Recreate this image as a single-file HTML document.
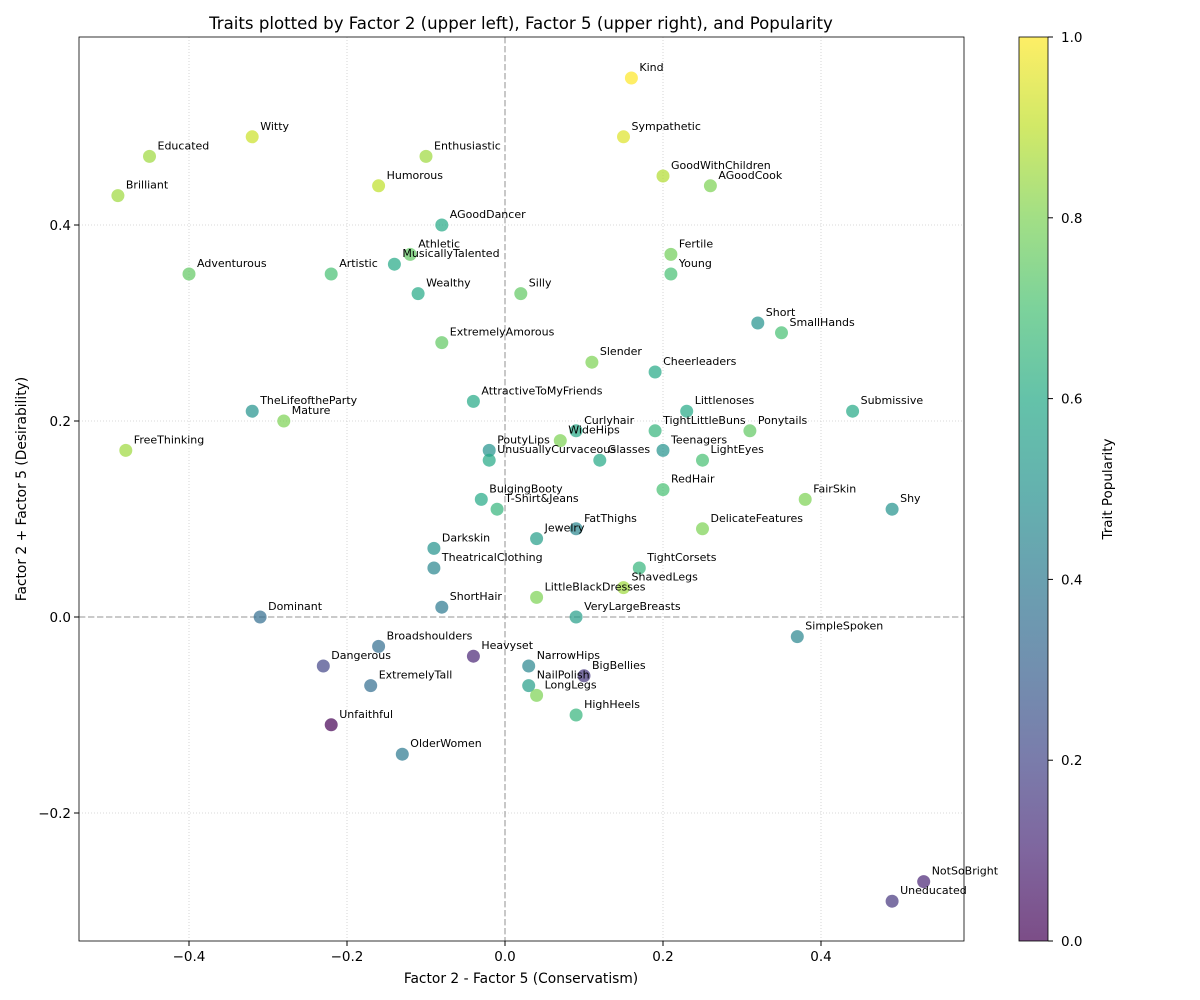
<!DOCTYPE html>
<html><head><meta charset="utf-8"><style>
body{margin:0;background:#fff}
svg{display:block;font-family:"DejaVu Sans","Liberation Sans",sans-serif}
</style></head><body>
<svg id="c" width="1200" height="1000" xmlns="http://www.w3.org/2000/svg">
<defs><linearGradient id="vg" x1="0" y1="1" x2="0" y2="0">
<stop offset="0" stop-color="#440154"/><stop offset="0.1" stop-color="#482475"/><stop offset="0.2" stop-color="#414487"/><stop offset="0.3" stop-color="#355f8d"/><stop offset="0.4" stop-color="#2a788e"/><stop offset="0.5" stop-color="#21918c"/><stop offset="0.6" stop-color="#22a884"/><stop offset="0.7" stop-color="#44bf70"/><stop offset="0.8" stop-color="#7ad151"/><stop offset="0.9" stop-color="#bddf26"/><stop offset="1" stop-color="#fde725"/>
</linearGradient></defs>
<text x="521" y="29" font-size="16.6" text-anchor="middle">Traits plotted by Factor 2 (upper left), Factor 5 (upper right), and Popularity</text>
<g id="grid"></g><g id="pts"></g><g id="labels"></g><g id="axes"></g>
<rect x="1019" y="37" width="29" height="904" fill="url(#vg)" opacity="0.7"/>
<rect x="1019" y="37" width="29" height="904" fill="none" stroke="#000" stroke-width="0.8"/>
<g id="cbar"></g>
<text x="1112" y="489" font-size="13.5" text-anchor="middle" transform="rotate(-90 1112 489)">Trait Popularity</text>
<text x="521" y="983" font-size="13.8" text-anchor="middle">Factor 2 - Factor 5 (Conservatism)</text>
<text x="26" y="489" font-size="13.8" text-anchor="middle" transform="rotate(-90 26 489)">Factor 2 + Factor 5 (Desirability)</text>
</svg>
<script>
const names=["Kind","Witty","Sympathetic","Educated","Enthusiastic","GoodWithChildren","AGoodCook","Humorous","Brilliant","AGoodDancer","Athletic","MusicallyTalented","Fertile","Adventurous","Artistic","Young","Wealthy","Silly","Short","SmallHands","ExtremelyAmorous","Slender","Cheerleaders","AttractiveToMyFriends","TheLifeoftheParty","Mature","Littlenoses","Submissive","Curlyhair","TightLittleBuns","Ponytails","WideHips","FreeThinking","PoutyLips","Teenagers","UnusuallyCurvaceous","Glasses","LightEyes","RedHair","BulgingBooty","FairSkin","T-Shirt&Jeans","Shy","FatThighs","DelicateFeatures","Jewelry","Darkskin","TightCorsets","TheatricalClothing","ShavedLegs","LittleBlackDresses","ShortHair","Dominant","VeryLargeBreasts","SimpleSpoken","Broadshoulders","Heavyset","Dangerous","NarrowHips","BigBellies","ExtremelyTall","NailPolish","LongLegs","HighHeels","Unfaithful","OlderWomen","NotSoBright","Uneducated"];
const xs=[0.16,-0.32,0.15,-0.45,-0.10,0.20,0.26,-0.16,-0.49,-0.08,-0.12,-0.14,0.21,-0.40,-0.22,0.21,-0.11,0.02,0.32,0.35,-0.08,0.11,0.19,-0.04,-0.32,-0.28,0.23,0.44,0.09,0.19,0.31,0.07,-0.48,-0.02,0.20,-0.02,0.12,0.25,0.20,-0.03,0.38,-0.01,0.49,0.09,0.25,0.04,-0.09,0.17,-0.09,0.15,0.04,-0.08,-0.31,0.09,0.37,-0.16,-0.04,-0.23,0.03,0.10,-0.17,0.03,0.04,0.09,-0.22,-0.13,0.53,0.49];
const ys=[0.55,0.49,0.49,0.47,0.47,0.45,0.44,0.44,0.43,0.40,0.37,0.36,0.37,0.35,0.35,0.35,0.33,0.33,0.30,0.29,0.28,0.26,0.25,0.22,0.21,0.20,0.21,0.21,0.19,0.19,0.19,0.18,0.17,0.17,0.17,0.16,0.16,0.16,0.13,0.12,0.12,0.11,0.11,0.09,0.09,0.08,0.07,0.05,0.05,0.03,0.02,0.01,0.00,0.00,-0.02,-0.03,-0.04,-0.05,-0.05,-0.06,-0.07,-0.07,-0.08,-0.10,-0.11,-0.14,-0.27,-0.29];
const pops=[1.0,0.92,0.95,0.85,0.85,0.88,0.8,0.9,0.85,0.6,0.75,0.6,0.78,0.75,0.7,0.7,0.6,0.75,0.5,0.7,0.75,0.8,0.6,0.6,0.5,0.8,0.6,0.6,0.6,0.65,0.75,0.8,0.85,0.5,0.5,0.6,0.6,0.7,0.7,0.6,0.8,0.65,0.5,0.45,0.8,0.55,0.5,0.65,0.45,0.85,0.8,0.4,0.35,0.55,0.45,0.35,0.1,0.2,0.45,0.15,0.35,0.55,0.8,0.65,0.0,0.4,0.1,0.15];
const xTicks=[-0.4,-0.2,0.0,0.2,0.4];
const yTicks=[-0.2,0.0,0.2,0.4];
const cTicks=[0.0,0.2,0.4,0.6,0.8,1.0];
const X=v=>505+v*790, Y=v=>617-v*980, C=v=>941-v*904;
const vir=["#440154","#482475","#414487","#355f8d","#2a788e","#21918c","#22a884","#44bf70","#7ad151","#bddf26","#fde725"];
function col(p){p=Math.max(0,Math.min(1,p))*10;const i=Math.min(9,Math.floor(p)),f=p-i;const a=vir[i],b=vir[i+1];const h=(s,k)=>parseInt(s.substr(1+2*k,2),16);let r=[0,1,2].map(k=>Math.round(h(a,k)+(h(b,k)-h(a,k))*f));return `rgb(${r.join(',')})`;}
const NS="http://www.w3.org/2000/svg";
function mk(par,tag,at,txt){const e=document.createElementNS(NS,tag);for(const k in at)e.setAttribute(k,at[k]);if(txt!==undefined)e.textContent=txt;document.getElementById(par).appendChild(e);return e;}
const L=79,R=964,T=37,B=941;
xTicks.forEach(t=>{const g=mk('grid','line',{x1:X(t),x2:X(t),y1:T,y2:B,stroke:'#ccc','stroke-dasharray':'1,2','stroke-width':0.8});

mk('axes','line',{x1:X(t),x2:X(t),y1:B,y2:B+5,stroke:'#000'});
const tl=mk('axes','text',{x:X(t),y:B+20,'font-size':13.5,'text-anchor':'middle'},(t<0?'\u2212':'')+Math.abs(t).toFixed(1));
});
yTicks.forEach(t=>{const g=mk('grid','line',{x1:L,x2:R,y1:Y(t),y2:Y(t),stroke:'#ccc','stroke-dasharray':'1,2','stroke-width':0.8});

mk('axes','line',{x1:L-5,x2:L,y1:Y(t),y2:Y(t),stroke:'#000'});
const tl=mk('axes','text',{x:L-8,y:Y(t)+5,'font-size':13.5,'text-anchor':'end'},(t<0?'\u2212':'')+Math.abs(t).toFixed(1));
});
const z1=mk('grid','line',{x1:X(0),x2:X(0),y1:T,y2:B,stroke:'#aaa','stroke-dasharray':'6,3','stroke-width':1.3});

const z2=mk('grid','line',{x1:L,x2:R,y1:Y(0),y2:Y(0),stroke:'#aaa','stroke-dasharray':'6,3','stroke-width':1.3});

const fr=mk('axes','rect',{x:L,y:T,width:R-L,height:B-T,fill:'none',stroke:'#000','stroke-width':0.8});

names.forEach((n,i)=>{const c=mk('pts','circle',{cx:X(xs[i]),cy:Y(ys[i]),r:6.5,fill:col(pops[i]),'fill-opacity':0.7});

const t=mk('labels','text',{x:X(xs[i])+8,y:Y(ys[i])-7,'font-size':11},n);
});
cTicks.forEach(t=>{mk('cbar','line',{x1:1048,x2:1053,y1:C(t),y2:C(t),stroke:'#000'});
const tl=mk('cbar','text',{x:1061,y:C(t)+5,'font-size':13.5},t.toFixed(1));
});
</script>
</body></html>
